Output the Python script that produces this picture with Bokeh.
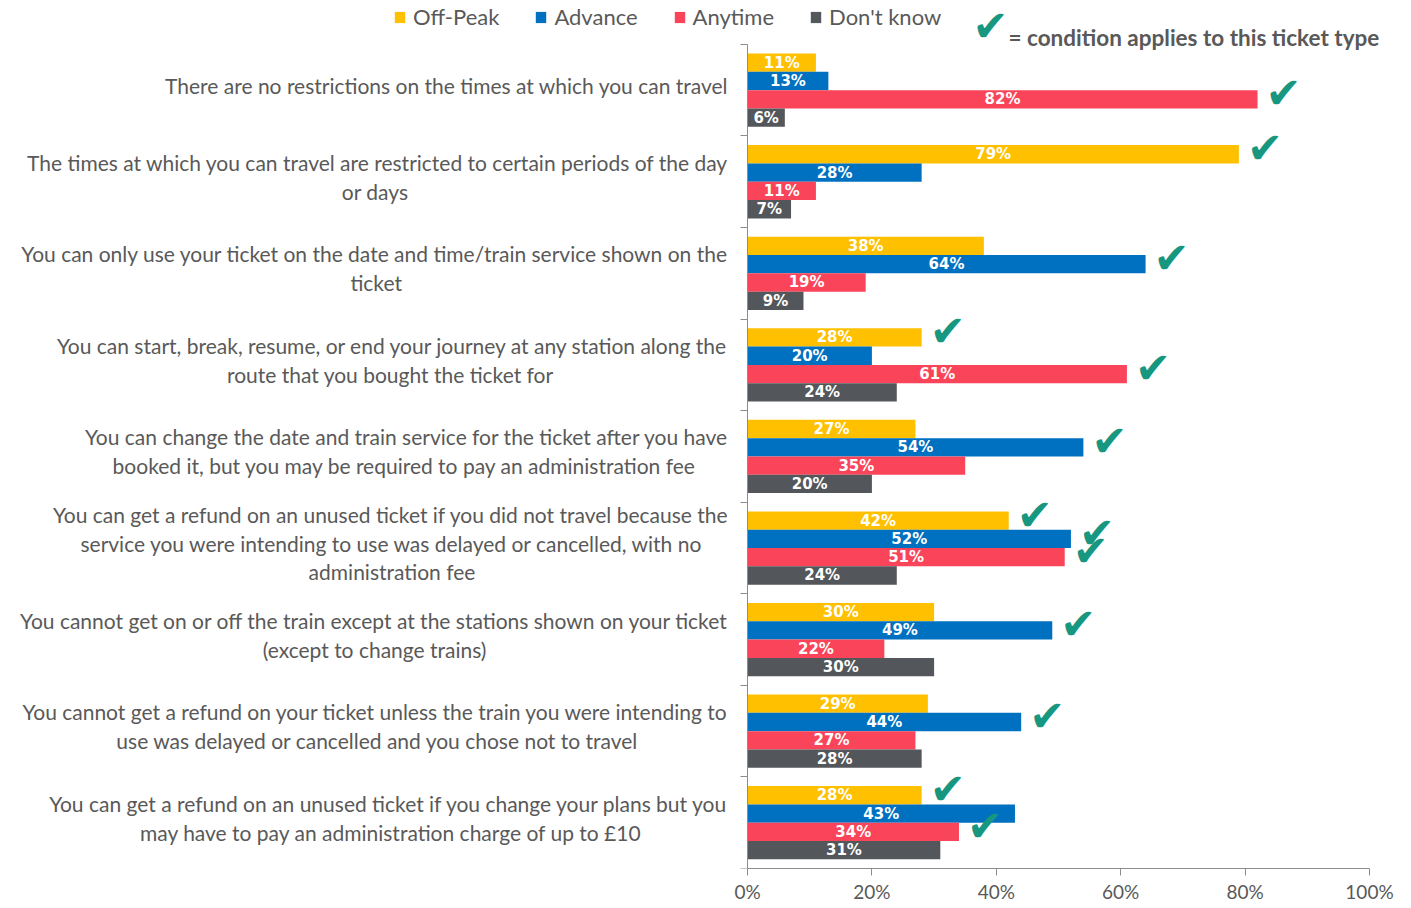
from bokeh.plotting import figure
from bokeh.models import (ColumnDataSource, Range1d, FixedTicker, PrintfTickFormatter,
                          Legend, LegendItem, Label)
from bokeh.core.properties import value
from bokeh.embed import file_html
from bokeh.resources import INLINE

# ---------------- data ----------------
category_lines = [
    ["There are no restrictions on the times at which you can travel"],
    ["The times at which you can travel are restricted to certain periods of the day", "or days"],
    ["You can only use your ticket on the date and time/train service shown on the", "ticket"],
    ["You can start, break, resume, or end your journey at any station along the",
     "route that you bought the ticket for"],
    ["You can change the date and train service for the ticket after you have",
     "booked it, but you may be required to pay an administration fee"],
    ["You can get a refund on an unused ticket if you did not travel because the",
     "service you were intending to use was delayed or cancelled, with no",
     "administration fee"],
    ["You cannot get on or off the train except at the stations shown on your ticket",
     "(except to change trains)"],
    ["You cannot get a refund on your ticket unless the train you were intending to",
     "use was delayed or cancelled and you chose not to travel"],
    ["You can get a refund on an unused ticket if you change your plans but you",
     "may have to pay an administration charge of up to £10"],
]
series_names = ["Off-Peak", "Advance", "Anytime", "Don't know"]
off_peak = [11, 79, 38, 28, 27, 42, 30, 29, 28]
advance = [13, 28, 64, 20, 54, 52, 49, 44, 43]
anytime = [82, 11, 19, 61, 35, 51, 22, 27, 34]
dont_know = [6, 7, 9, 24, 20, 24, 30, 28, 31]
applies_off_peak = [0, 1, 0, 1, 0, 1, 0, 0, 1]
applies_advance = [0, 0, 1, 0, 1, 1, 1, 1, 0]
applies_anytime = [1, 0, 0, 1, 0, 1, 0, 0, 1]
applies_dont_know = [0, 0, 0, 0, 0, 0, 0, 0, 0]
x_ticks = [0, 20, 40, 60, 80, 100]
legend_note = "= condition applies to this ticket type"

# ---------------- styles / layout ----------------
colors = ["#FFC000", "#0070C0", "#FA4459", "#53565A"]
offsets = [0.3, 0.1, -0.1, -0.3]
bar_h = 0.2
check_color = "#17977F"
text_color = "#595959"
axis_color = "#8C8C8C"
FONT = "Lato"
CHECK = "\u2714"

W, H = 1405, 905
FRAME_L = 12            # frame left (px); frame spans to the right edge, from the top
AX_X0, AX_X1 = 747, 1369  # pixel positions of 0% and 100%
AX_TOP, AX_BOT = 44, 870  # pixel extent of the category axis
n = len(category_lines)

px_pct = (AX_X1 - AX_X0) / 100.0
px_unit = (AX_BOT - AX_TOP) / n
x_start = -(AX_X0 - FRAME_L) / px_pct
x_end = (W - AX_X0) / px_pct
y_end = AX_BOT / px_unit

p = figure(width=W, height=H, output_backend="svg", toolbar_location=None,
           x_range=Range1d(x_start, x_end), y_range=Range1d(0, y_end), title=None,
           min_border_left=FRAME_L, min_border_right=0,
           min_border_top=0, min_border_bottom=H - AX_BOT)
p.outline_line_color = None
p.grid.visible = False
p.background_fill_color = "white"
p.border_fill_color = "white"

# x axis
xa = p.xaxis[0]
xa.ticker = FixedTicker(ticks=x_ticks)
xa.bounds = (x_ticks[0], x_ticks[-1])
xa.formatter = PrintfTickFormatter(format="%d%%")
xa.axis_line_color = axis_color
xa.major_tick_line_color = axis_color
xa.major_tick_out = 7
xa.major_tick_in = 0
xa.minor_tick_line_color = None
xa.major_label_standoff = 4
xa.major_label_text_font = FONT
xa.major_label_text_font_size = "19px"
xa.major_label_text_color = text_color

# y axis at x = 0 (ticks at category boundaries, no labels)
ya = p.yaxis[0]
ya.fixed_location = 0
ya.ticker = FixedTicker(ticks=list(range(n + 1)))
ya.bounds = (0, n)
ya.axis_line_color = axis_color
ya.major_tick_line_color = axis_color
ya.major_tick_out = 7
ya.major_tick_in = 0
ya.minor_tick_line_color = None
ya.major_label_overrides = {i: "" for i in range(n + 1)}
ya.major_label_standoff = 0

all_values = [off_peak, advance, anytime, dont_know]
all_applies = [applies_off_peak, applies_advance, applies_anytime, applies_dont_know]

legend_items = []
for j, (name, vals, app) in enumerate(zip(series_names, all_values, all_applies)):
    ys = [n - 1 - k + 0.5 + offsets[j] for k in range(n)]
    src = ColumnDataSource(dict(
        y=ys, v=vals, mid=[v / 2 for v in vals], lbl=[f"{v}%" for v in vals]))
    r = p.hbar(y="y", left=0, right="v", height=bar_h, source=src,
               fill_color=colors[j], line_color=None)
    legend_items.append(LegendItem(label=name, renderers=[r]))
    p.text(x="mid", y="y", text="lbl", source=src, text_color="white",
           text_font=value("DejaVu Sans"), text_font_style="bold",
           text_font_size="15px", text_align="center", text_baseline="middle")
    cx = [v for v, a in zip(vals, app) if a]
    cy = [yy for yy, a in zip(ys, app) if a]
    if cx:
        csrc = ColumnDataSource(dict(x=cx, y=cy, t=[CHECK] * len(cx)))
        p.text(x="x", y="y", text="t", source=csrc, text_color=check_color,
               text_font=value("DejaVu Sans"), text_font_size="43px",
               text_align="left", text_baseline="middle", x_offset=8, y_offset=-6)

# category labels (first line right aligned, other lines centred on the first)
width_table = {}
for ch in "il.,'|!:;":
    width_table[ch] = 0.23
for ch in "ftjr()-/":
    width_table[ch] = 0.34
width_table[" "] = 0.2
width_table["m"] = 0.8
width_table["w"] = 0.74


def est_width(s, size):
    tot = 0.0
    for ch in s:
        if ch in width_table:
            tot += width_table[ch]
        elif ch.isupper():
            tot += 0.63
        elif ch.isdigit() or ch == "£":
            tot += 0.58
        else:
            tot += 0.5
    return tot * size * 1.07


LBL_SIZE = 21
LINE_SP = 29
GAP = 19
first = dict(x=[], y=[], text=[], xo=[])
rest = dict(x=[], y=[], text=[], xo=[])
for k, lines in enumerate(category_lines):
    c = n - 1 - k + 0.5
    m = len(lines)
    w1 = est_width(lines[0], LBL_SIZE)
    for i, line in enumerate(lines):
        yy = c + (((m - 1) / 2 - i) * LINE_SP + 5) / px_unit
        d = first if i == 0 else rest
        d["x"].append(0)
        d["y"].append(yy)
        d["text"].append(line)
        d["xo"].append(-GAP if i == 0 else -GAP - w1 / 2)

for d, al in ((first, "right"), (rest, "center")):
    p.text(x="x", y="y", text="text", x_offset="xo", source=ColumnDataSource(d),
           text_font=value(FONT), text_font_size=f"{LBL_SIZE}px",
           text_color=text_color, text_baseline="middle", text_align=al)

# legend on top
LEG_H = 26
legend = Legend(items=legend_items, orientation="horizontal",
                location=(393 - FRAME_L, AX_BOT - 19 - LEG_H / 2),
                padding=0, margin=0, spacing=35, label_standoff=7,
                glyph_width=13, glyph_height=14, label_height=20,
                label_text_font=FONT, label_text_font_size="22px",
                label_text_color=text_color, background_fill_alpha=0,
                border_line_color=None)
p.add_layout(legend)

p.add_layout(Label(x=990 - FRAME_L, y=AX_BOT - 27, x_units="screen", y_units="screen",
                   text=CHECK, text_font="DejaVu Sans", text_font_size="43px",
                   text_color=check_color, text_align="center", text_baseline="middle"))
p.add_layout(Label(x=1008 - FRAME_L, y=AX_BOT - 39, x_units="screen", y_units="screen",
                   text=legend_note, text_font=FONT, text_font_style="bold",
                   text_font_size="22.5px", text_color=text_color,
                   text_align="left", text_baseline="middle"))

open("out.html", "w").write(file_html(p, INLINE))
